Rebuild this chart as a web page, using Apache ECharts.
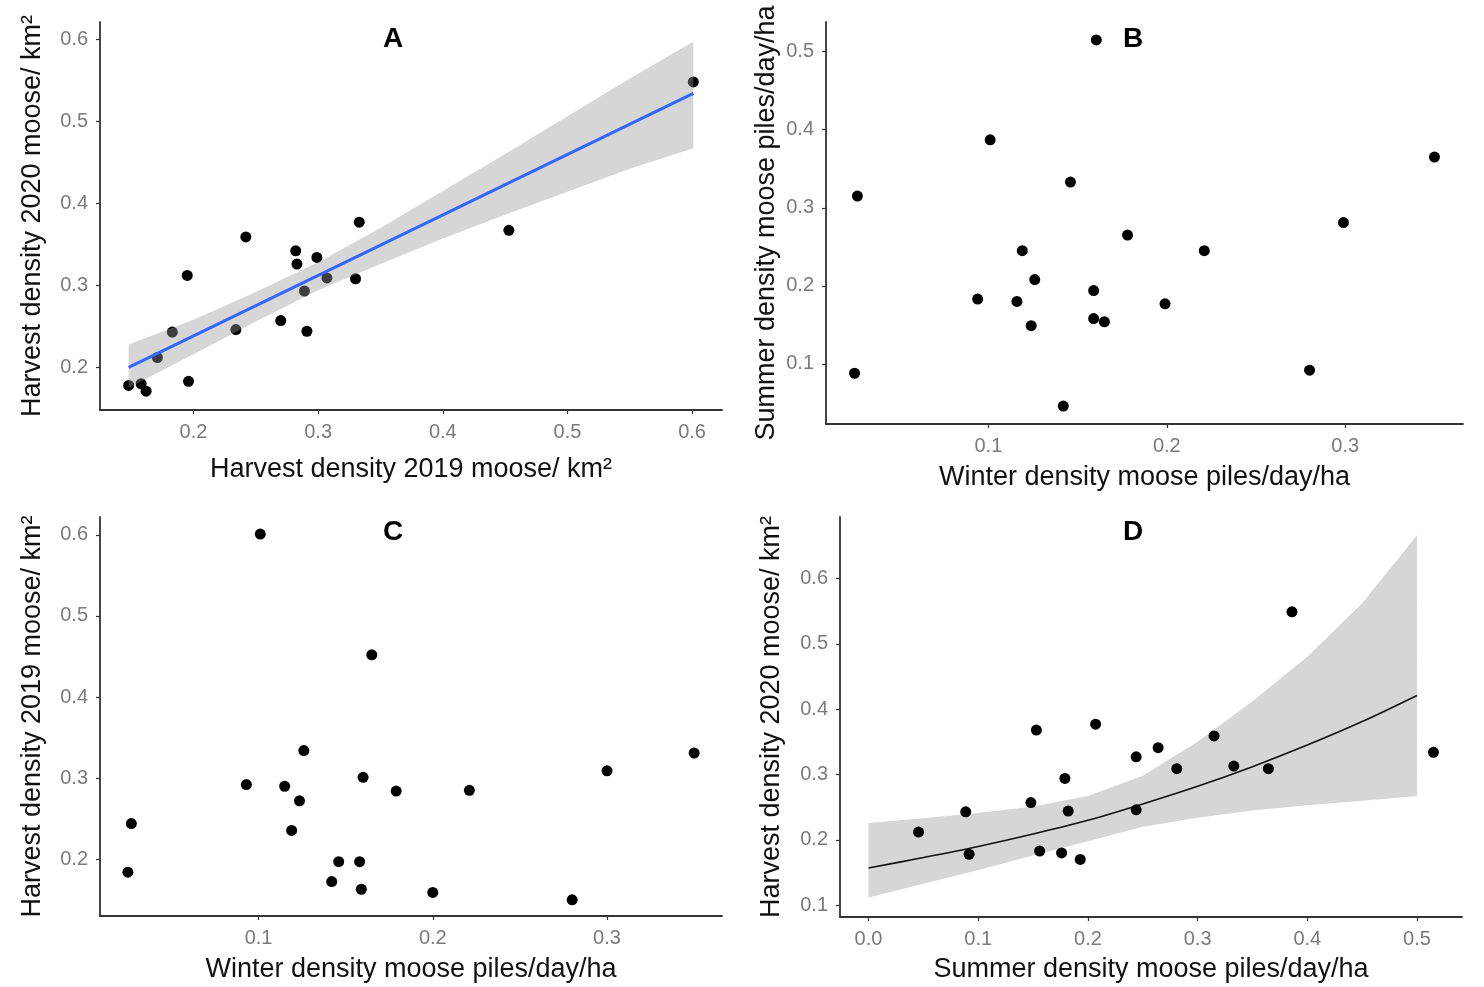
<!DOCTYPE html>
<html>
<head>
<meta charset="utf-8">
<script src="https://cdn.jsdelivr.net/npm/echarts@6/dist/echarts.min.js"></script>
<style>
html,body{margin:0;padding:0;background:#fff;}
#chart{width:1484px;height:987px;}
</style>
</head>
<body>
<div id="chart"></div>
<script>
// Panel A: Harvest 2019 (x) vs Harvest 2020 (y)
const aX = [0.148,0.158,0.162,0.171,0.183,0.195,0.196,0.234,0.242,0.270,0.282,0.283,0.289,0.291,0.299,0.307,0.330,0.333,0.453,0.601];
const aY = [0.178,0.180,0.171,0.212,0.243,0.312,0.183,0.246,0.359,0.257,0.342,0.326,0.293,0.244,0.334,0.309,0.308,0.377,0.367,0.548];
const aFitX = [0.148,0.601];
const aFitY = [0.200,0.534];
const aBandX = [0.148,0.20,0.25,0.30,0.35,0.40,0.45,0.50,0.55,0.601];
const aBandLow = [0.175,0.216,0.256,0.294,0.326,0.357,0.386,0.414,0.442,0.467];
const aBandHigh = [0.228,0.258,0.292,0.328,0.370,0.415,0.460,0.506,0.552,0.597];

// Panel B: Winter (x) vs Summer (y)
const bX = [0.1605,0.101,0.0266,0.146,0.350,0.299,0.178,0.119,0.221,0.126,0.159,0.094,0.116,0.199,0.124,0.159,0.165,0.025,0.280,0.142];
const bY = [0.515,0.387,0.315,0.333,0.365,0.281,0.265,0.245,0.245,0.208,0.194,0.183,0.180,0.177,0.149,0.158,0.154,0.088,0.092,0.046];

// Panel C: Winter (x) vs Harvest 2019 (y)
const cX = [0.101,0.165,0.126,0.350,0.300,0.160,0.093,0.115,0.179,0.221,0.1235,0.027,0.119,0.146,0.158,0.025,0.142,0.159,0.200,0.280];
const cY = [0.601,0.452,0.334,0.331,0.309,0.301,0.292,0.290,0.284,0.285,0.272,0.244,0.2355,0.197,0.197,0.184,0.1725,0.163,0.159,0.150];

// Panel D: Summer (x) vs Harvest 2020 (y)
const dX = [0.0456,0.0886,0.0917,0.148,0.153,0.156,0.176,0.179,0.182,0.193,0.207,0.244,0.244,0.264,0.281,0.315,0.333,0.3645,0.386,0.515];
const dY = [0.212,0.243,0.178,0.257,0.368,0.183,0.180,0.294,0.244,0.170,0.377,0.327,0.246,0.341,0.309,0.359,0.313,0.309,0.549,0.334];
const dFitX = [0,0.05,0.10,0.15,0.20,0.25,0.30,0.35,0.40,0.45,0.50];
const dFitY = [0.157,0.173,0.190,0.209,0.230,0.255,0.282,0.312,0.345,0.381,0.421];
const dBandLow = [0.112,0.133,0.154,0.176,0.198,0.220,0.234,0.245,0.253,0.260,0.267];
const dBandHigh = [0.226,0.233,0.241,0.251,0.267,0.298,0.350,0.412,0.480,0.562,0.666];

// Tick labels
const aXTicks = [0.2,0.3,0.4,0.5,0.6];
const aYTicks = [0.2,0.3,0.4,0.5,0.6];
const bXTicks = [0.1,0.2,0.3];
const bYTicks = [0.1,0.2,0.3,0.4,0.5];
const cXTicks = [0.1,0.2,0.3];
const cYTicks = [0.2,0.3,0.4,0.5,0.6];
const dXTicks = [0.0,0.1,0.2,0.3,0.4,0.5];
const dYTicks = [0.1,0.2,0.3,0.4,0.5,0.6];

const panelTitles = ['A','B','C','D'];

const FONT = '"Liberation Sans", Arial, sans-serif';

function axis(gridIndex, min, max, ticks, name, nameGap) {
  return {
    type: 'value', gridIndex, min, max, name, nameLocation: 'middle', nameGap,
    nameTextStyle: {fontSize: 27, color: '#111', fontFamily: FONT},
    axisLine: {show: true, onZero: false, lineStyle: {color: '#333', width: 1.8}},
    axisTick: {show: true, customValues: ticks, length: 4, lineStyle: {color: '#333', width: 1.2}},
    axisLabel: {show: true, customValues: ticks, formatter: v => v.toFixed(1), color: '#7a7a7a', fontSize: 20, margin: 12, fontFamily: FONT},
    splitLine: {show: false}
  };
}

function band(xi, xs, lo, hi, z) {
  return {
    type: 'custom', xAxisIndex: xi, yAxisIndex: xi, z, silent: true,
    data: xs.map((x, i) => [x, lo[i], hi[i]]),
    renderItem: (params, api) => {
      if (params.dataIndex !== 0) return;
      const up = [], dn = [];
      for (let i = 0; i < xs.length; i++) up.push(api.coord([xs[i], hi[i]]));
      for (let i = xs.length - 1; i >= 0; i--) dn.push(api.coord([xs[i], lo[i]]));
      return {type: 'polygon', shape: {points: up.concat(dn)}, style: {fill: 'rgba(153,153,153,0.4)'}};
    }
  };
}

function pts(xi, xs, ys, z) {
  return {type: 'scatter', xAxisIndex: xi, yAxisIndex: xi, z, symbolSize: 11,
    itemStyle: {color: '#000', opacity: 1}, data: xs.map((x, i) => [x, ys[i]])};
}

const titlePos = [[388, 20], [1128, 20], [388, 513], [1128, 513]];

const option = {
  animation: false,
  backgroundColor: '#fff',
  title: panelTitles.map((t, i) => ({
    text: t, left: titlePos[i][0], top: titlePos[i][1], textAlign: 'center',
    textStyle: {fontSize: 28, fontWeight: 'bold', color: '#000', fontFamily: FONT}
  })),
  grid: [
    {left: 100, top: 22, width: 622, height: 388},
    {left: 826, top: 22, width: 637, height: 402},
    {left: 100, top: 517, width: 622, height: 399},
    {left: 840, top: 517, width: 622, height: 400}
  ],
  xAxis: [
    axis(0, 0.125, 0.624, aXTicks, 'Harvest density 2019 moose/ km²', 46),
    axis(1, 0.009, 0.366, bXTicks, 'Winter density moose piles/day/ha', 40),
    axis(2, 0.009, 0.366, cXTicks, 'Winter density moose piles/day/ha', 40),
    axis(3, -0.026, 0.541, dXTicks, 'Summer density moose piles/day/ha', 39)
  ],
  yAxis: [
    axis(0, 0.148, 0.621, aYTicks, 'Harvest density 2020 moose/ km²', 54),
    axis(1, 0.023, 0.538, bYTicks, 'Summer density moose piles/day/ha', 46),
    axis(2, 0.130, 0.622, cYTicks, 'Harvest density 2019 moose/ km²', 54),
    axis(3, 0.082, 0.694, dYTicks, 'Harvest density 2020 moose/ km²', 55)
  ],
  series: [
    pts(0, aX, aY, 2),
    band(0, aBandX, aBandLow, aBandHigh, 3),
    {type: 'line', xAxisIndex: 0, yAxisIndex: 0, z: 4, showSymbol: false, symbol: 'none',
      lineStyle: {color: '#3366FF', width: 3}, data: aFitX.map((x, i) => [x, aFitY[i]])},
    pts(1, bX, bY, 2),
    pts(2, cX, cY, 2),
    band(3, dFitX, dBandLow, dBandHigh, 1),
    {type: 'line', xAxisIndex: 3, yAxisIndex: 3, z: 2, showSymbol: false, symbol: 'none', smooth: 0.3,
      lineStyle: {color: '#111', width: 1.6}, data: dFitX.map((x, i) => [x, dFitY[i]])},
    pts(3, dX, dY, 3)
  ]
};

const chart = echarts.init(document.getElementById('chart'), null, {renderer: 'canvas'});
chart.setOption(option);
</script>
</body>
</html>
